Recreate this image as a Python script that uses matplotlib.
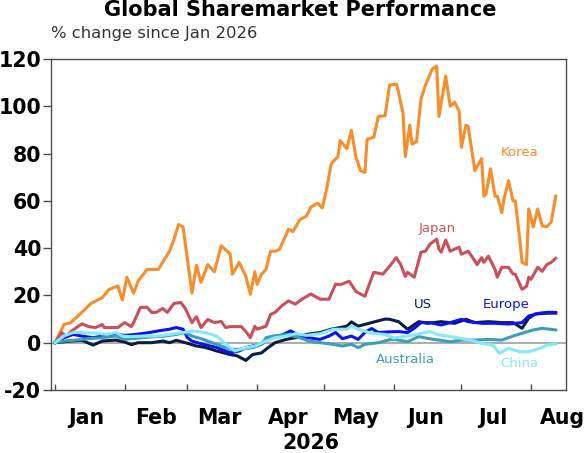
import matplotlib
matplotlib.use('Agg')
import matplotlib.pyplot as plt
import pandas as pd

plt.rcParams['axes.unicode_minus'] = False

# values, % change since Jan 2026
korea_dates = ['01-01', '01-05', '01-08', '01-12', '01-17', '01-22', '01-25', '01-29', '01-31', '02-02',
               '02-05', '02-07', '02-11', '02-16', '02-21', '02-23', '02-25', '02-27', '03-03', '03-05',
               '03-07', '03-10', '03-13', '03-16', '03-20', '03-21', '03-24', '03-27', '03-29', '03-31',
               '04-01', '04-03', '04-05', '04-07', '04-09', '04-11', '04-15', '04-17', '04-20', '04-23',
               '04-25', '04-28', '04-30', '05-02', '05-04', '05-07', '05-08', '05-11', '05-13', '05-15',
               '05-17', '05-19', '05-20', '05-23', '05-25', '05-28', '05-30', '06-02', '06-03', '06-05',
               '06-06', '06-08', '06-09', '06-11', '06-13', '06-15', '06-18', '06-20', '06-21', '06-24',
               '06-26', '06-28', '06-30', '07-01', '07-03', '07-04', '07-07', '07-10', '07-11', '07-12',
               '07-14', '07-16', '07-17', '07-19', '07-20', '07-22', '07-24', '07-25', '07-27', '07-28',
               '07-30', '07-31', '08-02', '08-04', '08-06', '08-08', '08-10', '08-12']
korea = [0, 7.7, 8.5, 12, 16.6, 19, 22.5, 24, 18, 27.7,
         21, 26, 31, 31, 38.7, 43.8, 50, 49, 21, 32.8,
         25.5, 33, 30, 41, 37.5, 29, 34, 28, 20.5, 30,
         24.7, 29, 31, 38.7, 38.7, 39.5, 48, 47, 52, 53.6,
         57.4, 59, 57, 65, 75.7, 78.7, 85.5, 82, 89.8, 78.7,
         72.8, 72, 86, 87, 95.7, 96, 109, 109.4, 106, 97,
         78.7, 92, 84, 85, 103, 109, 115.7, 117, 95.7, 112.8,
         100, 101.7, 97.9, 82.6, 92, 91.5, 72.8, 77.9, 62, 63,
         73.6, 62, 62, 55, 61, 68.5, 60, 60, 43.8, 34,
         33, 56.6, 49, 56.6, 49.4, 49, 51, 62]

japan_dates = ['01-01', '01-04', '01-06', '01-08', '01-13', '01-16', '01-19', '01-22', '01-23', '01-29',
               '02-01', '02-04', '02-05', '02-08', '02-11', '02-13', '02-15', '02-18', '02-20', '02-23',
               '02-26', '02-28', '03-03', '03-05', '03-07', '03-10', '03-13', '03-16', '03-18', '03-20',
               '03-23', '03-25', '03-27', '03-29', '03-31', '04-01', '04-05', '04-07', '04-09', '04-12',
               '04-15', '04-18', '04-21', '04-25', '04-29', '05-03', '05-06', '05-08', '05-12', '05-15',
               '05-19', '05-23', '05-27', '05-30', '06-02', '06-04', '06-06', '06-07', '06-10', '06-13',
               '06-15', '06-17', '06-20', '06-21', '06-22', '06-24', '06-26', '06-28', '06-30', '07-01',
               '07-04', '07-06', '07-08', '07-10', '07-11', '07-13', '07-16', '07-17', '07-19', '07-22',
               '07-24', '07-25', '07-27', '07-28', '07-30', '07-31', '08-01', '08-04', '08-06', '08-08',
               '08-10', '08-12']
japan = [0, 4.3, 2.5, 4.7, 8, 6.8, 6.4, 7.7, 6.4, 6.4,
         8.5, 6.8, 8.5, 14.9, 15, 12.8, 12.8, 14.5, 12.8, 16.6,
         17, 14.5, 8.5, 11, 6.4, 9.8, 8.5, 9, 6.4, 6.8,
         6.8, 6.8, 4.7, 2.1, 7, 5.7, 7, 12, 12.8, 15.6,
         17.7, 16.3, 18.4, 20.6, 18.4, 18.4, 24.8, 24.5, 26, 21.7,
         19.6, 29.8, 29, 32.3, 36, 33, 28, 29.8, 27.7, 38.3,
         38.7, 41.7, 43.8, 39.6, 38.3, 43.4, 38.7, 39.6, 40.4, 37.4,
         38.7, 36, 33, 36, 34, 36.6, 31, 27.7, 31.9, 31.9,
         29, 29, 24.7, 22.6, 23.8, 27.7, 26.8, 31.9, 30.2, 33,
         34, 35.7]

us_dates = ['01-01', '01-08', '01-13', '01-18', '01-22', '01-28', '02-01', '02-04', '02-07', '02-13',
            '02-18', '02-21', '02-24', '02-28', '03-05', '03-09', '03-14', '03-20', '03-23', '03-27',
            '03-30', '04-03', '04-06', '04-09', '04-14', '04-18', '04-23', '04-29', '05-04', '05-11',
            '05-13', '05-16', '05-22', '05-28', '05-30', '06-03', '06-07', '06-12', '06-16', '06-22',
            '06-28', '07-03', '07-07', '07-13', '07-19', '07-24', '07-28', '07-31', '08-03', '08-09',
            '08-12']
us = [0, 0.7, 1, -1, 0.7, 1.1, 0.3, -0.8, 0, 0,
      0.7, 0, 1, 0, -1.4, -2, -3.5, -5, -5.5, -7.5,
      -5, -4.3, -2, 0, 1.4, 2.1, 3.5, 4.3, 5.7, 7,
      8.8, 7, 8.5, 10, 9.9, 8.9, 5.7, 8.9, 8.2, 8.9,
      8.2, 9.9, 8.5, 8.9, 8.5, 8.5, 6.1, 10.4, 12.2, 12.5,
      12.5]

europe_dates = ['01-01', '01-05', '01-09', '01-13', '01-18', '01-22', '01-28', '02-01', '02-06', '02-12',
                '02-16', '02-21', '02-24', '02-27', '03-01', '03-03', '03-08', '03-14', '03-20', '03-24',
                '03-27', '03-30', '04-03', '04-06', '04-11', '04-16', '04-20', '04-24', '04-29', '05-03',
                '05-06', '05-09', '05-13', '05-16', '05-19', '05-22', '05-25', '05-30', '06-03', '06-07',
                '06-10', '06-13', '06-17', '06-22', '06-26', '07-01', '07-04', '07-10', '07-16', '07-22',
                '07-28', '07-31', '08-05', '08-09', '08-12']
europe = [0, 2.1, 3.5, 2.8, 2.1, 2.8, 3.5, 3.1, 3.5, 4.3,
          5, 5.7, 6.4, 5.7, 2.1, 0.7, -0.7, -2, -4.3, -3.5,
          -2.1, -1.4, -0.7, 2.1, 2.8, 5, 2.8, 2.1, 1.4, 2.8,
          4.3, 1.7, 2.8, 1.4, 4.3, 6, 4.3, 4.6, 4.7, 4.3,
          6.1, 8.5, 8.5, 7.5, 8.5, 9.9, 8.9, 8.2, 8.2, 7.9,
          8.5, 11.3, 12.5, 12.9, 12.8]

australia_dates = ['01-01', '01-05', '01-10', '01-16', '01-22', '01-28', '02-01', '02-04', '02-09', '02-15',
                   '02-19', '02-24', '02-28', '03-03', '03-08', '03-14', '03-20', '03-24', '03-30', '04-03',
                   '04-05', '04-08', '04-14', '04-20', '04-24', '04-29', '05-05', '05-09', '05-13', '05-16',
                   '05-19', '05-25', '05-31', '06-03', '06-07', '06-12', '06-16', '06-21', '06-26', '07-01',
                   '07-07', '07-13', '07-19', '07-24', '07-28', '08-02', '08-06', '08-12']
australia = [0, 0.7, 1.1, 1.7, 2.1, 2.8, 1.4, 1.7, 2.1, 2.6,
             2.8, 3.5, 4.3, 2.8, 1.4, -0.7, -2.8, -2.8, -2.1, -0.7,
             2.1, 2.8, 3.5, 2.1, 0.7, 0, -0.7, -1.4, -0.7, -2.1,
             -0.7, 0, 1.5, 1.1, 0.4, 2.6, 1.8, 1.1, 0.4, 1.1,
             1.1, 1.4, 1.1, 2.8, 4, 5.4, 6.1, 5.4]

china_dates = ['01-01', '01-05', '01-09', '01-13', '01-19', '01-24', '01-28', '01-31', '02-04', '02-09',
               '02-15', '02-21', '02-27', '03-03', '03-09', '03-14', '03-19', '03-22', '03-27', '03-31',
               '04-05', '04-09', '04-14', '04-18', '04-23', '04-29', '05-05', '05-11', '05-13', '05-16',
               '05-22', '05-28', '06-01', '06-05', '06-10', '06-17', '06-21', '06-26', '07-01', '07-06',
               '07-10', '07-15', '07-18', '07-22', '07-27', '07-31', '08-05', '08-08', '08-12']
china = [0, 2.8, 4.3, 4.3, 4, 3.5, 4.3, 2.8, 2.6, 2.8,
         2.8, 3.5, 4.3, 5, 4.3, 2.8, -1.4, -3.5, -2.1, -1.4,
         0.7, 2.1, 2.8, 3.8, 3.1, 3.8, 5.7, 5.7, 7, 5.7,
         4, 3.5, 2, 2.6, 3.3, 4.7, 3.3, 2.6, 1.8, 0.9,
         -0.3, -1, -4.5, -2.4, -3.8, -3.8, -2.4, -1, -0.6]

series = [
    ('Korea', korea_dates, korea, '#f78d2b'),
    ('Japan', japan_dates, japan, '#c9505b'),
    ('US', us_dates, us, '#0d1b45'),
    ('Europe', europe_dates, europe, '#0a14f0'),
    ('Australia', australia_dates, australia, '#3d9eb9'),
    ('China', china_dates, china, '#86e9f8'),
]

# where the series names sit (date, value)
labels = {
    'Korea': ('07-27', 80.5),
    'Japan': ('06-20', 48.5),
    'US': ('06-14', 16),
    'Europe': ('07-21', 16),
    'Australia': ('06-06', -7.3),
    'China': ('07-27', -9),
}

months = ['Jan', 'Feb', 'Mar', 'Apr', 'May', 'Jun', 'Jul', 'Aug']

fig = plt.figure(figsize=(5.87, 4.53), dpi=100)
ax = fig.add_axes([0.0869, 0.1391, 0.8773, 0.7307])

ax.axhline(0, color='#a6a6a6', lw=1.3, zorder=1)

for name, dates, vals, col in series:
    d = pd.to_datetime(['2026-' + s for s in dates])
    ax.plot(d, vals, color=col, lw=2.2, zorder=2, solid_joinstyle='round')
    lx, ly = labels[name]
    ax.text(pd.Timestamp('2026-' + lx), ly, name, color=col, fontsize=9.5,
            ha='center', va='center')

ax.set_ylim(-20, 120)
ax.set_yticks(range(-20, 121, 20))
ax.set_xlim(pd.Timestamp('2025-12-30 05:00'), pd.Timestamp('2026-08-16 14:00'))

# month boundaries as small inward ticks, names centred mid-month
month_starts = pd.date_range('2026-01-01', '2026-08-01', freq='MS')
mid_months = month_starts + pd.Timedelta(days=14)
ax.set_xticks(month_starts)
ax.set_xticklabels([])
ax.set_xticks(mid_months, minor=True)
ax.set_xticklabels(months, minor=True)
ax.tick_params(axis='x', which='major', direction='in', length=4, width=1, color='#4d4d4d')
ax.tick_params(axis='x', which='minor', length=0, pad=13, labelsize=14.8)
ax.tick_params(axis='y', direction='out', length=5.5, width=1, color='#4d4d4d', pad=1.5, labelsize=14.8)
for lab in ax.get_xticklabels(minor=True) + ax.get_yticklabels():
    lab.set_fontweight('bold')

for sp in ax.spines.values():
    sp.set_color('#4d4d4d')
    sp.set_linewidth(1)

fig.text(0.53, 0.022, '2026', fontsize=14.8, fontweight='bold', ha='center', va='center')
fig.text(0.511, 0.977, 'Global Sharemarket Performance', fontsize=15, fontweight='bold',
         ha='center', va='center')
fig.text(0.0869, 0.925, '% change since Jan 2026', fontsize=11.8, color='#333333',
         ha='left', va='center')

fig.savefig('out.png', dpi=100)
